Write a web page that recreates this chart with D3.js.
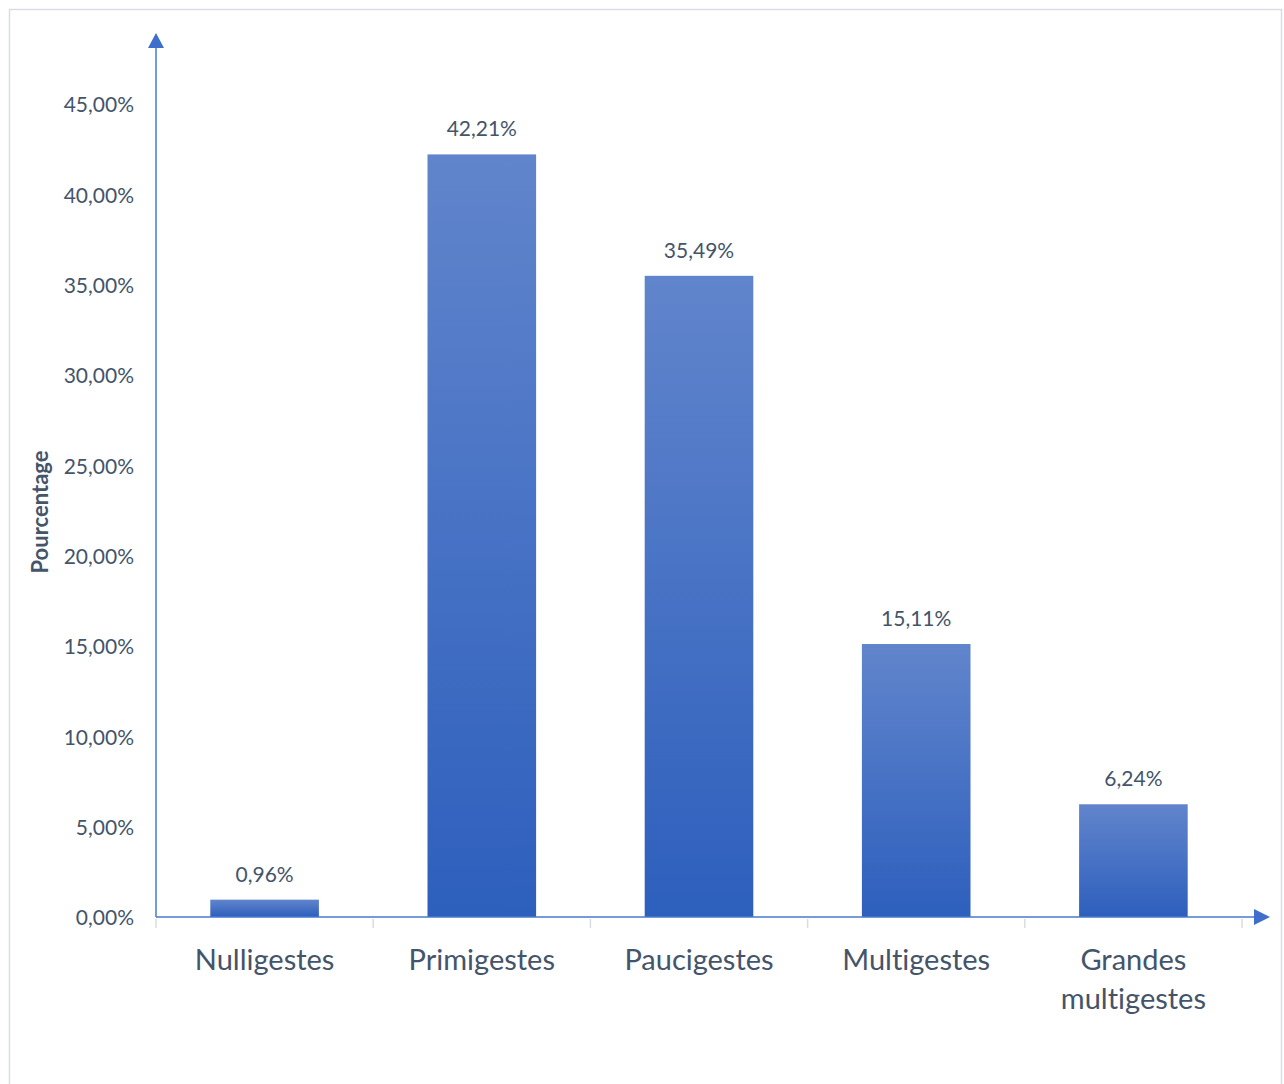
<!DOCTYPE html>
<html>
<head>
<meta charset="utf-8">
<script src="https://cdn.jsdelivr.net/npm/d3@7"></script>
<style>
  html, body { margin: 0; padding: 0; background: #fff; }
  svg { display: block; }
  text { font-family: Lato, "Open Sans", sans-serif; font-variant-ligatures: none; font-feature-settings: "liga" 0, "clig" 0; }
</style>
</head>
<body>
<svg id="chart" width="1284" height="1084"></svg>
<script>
// Répartition des patientes selon la gestité
const categories = ["Nulligestes", "Primigestes", "Paucigestes", "Multigestes", "Grandes multigestes"];
const values = [0.96, 42.21, 35.49, 15.11, 6.24];
const yTicks = [0, 5, 10, 15, 20, 25, 30, 35, 40, 45];
const axisTitle = "Pourcentage";

const svg = d3.select("#chart");
const plot = { left: 156, right: 1242, top: 104, bottom: 917 };

const fmtPct = v => v.toFixed(2).replace(".", ",") + "%";

// chart frame
svg.append("rect")
  .attr("x", 9.5).attr("y", 9.5)
  .attr("width", 1272).attr("height", 1090)
  .attr("fill", "#fff").attr("stroke", "#d9dde3").attr("stroke-width", 1.5);

const x = d3.scaleBand().domain(categories).range([plot.left, plot.right]).paddingInner(0.5).paddingOuter(0.25);
const y = d3.scaleLinear().domain([0, 45]).range([plot.bottom, plot.top]);

// bar gradient
const defs = svg.append("defs");
const grad = defs.append("linearGradient").attr("id", "barGrad")
  .attr("x1", 0).attr("y1", 0).attr("x2", 0).attr("y2", 1);
grad.append("stop").attr("offset", "0%").attr("stop-color", "#6185cc");
grad.append("stop").attr("offset", "100%").attr("stop-color", "#2d5fbd");

// y tick labels
const yAxis = d3.axisLeft(y).tickValues(yTicks).tickFormat(fmtPct).tickSize(0).tickPadding(22);
const gy = svg.append("g").attr("transform", `translate(${plot.left},1)`).call(yAxis);
gy.select(".domain").remove();
gy.selectAll("text").attr("font-size", 21).attr("fill", "#44546a")
  .attr("font-family", "Lato, 'Open Sans', sans-serif");

// category tick marks below the axis
const bandEdges = categories.map(c => x(c) - x.step() * x.paddingInner() / 2);
bandEdges.push(plot.right);
svg.append("g").selectAll("line").data(bandEdges).join("line")
  .attr("x1", d => d).attr("x2", d => d)
  .attr("y1", plot.bottom + 2).attr("y2", plot.bottom + 11)
  .attr("stroke", "#d9dde3").attr("stroke-width", 1.5);

// bars
svg.append("g").selectAll("rect").data(values).join("rect")
  .attr("x", (d, i) => x(categories[i]))
  .attr("y", d => y(d))
  .attr("width", x.bandwidth())
  .attr("height", d => y(0) - y(d))
  .attr("fill", "url(#barGrad)");

// value labels
svg.append("g").selectAll("text").data(values).join("text")
  .attr("x", (d, i) => x(categories[i]) + x.bandwidth() / 2)
  .attr("y", d => y(d) - 18)
  .attr("text-anchor", "middle")
  .attr("font-size", 21).attr("fill", "#44546a")
  .text(fmtPct);

// axes with arrowheads
const axisColor = "#4a78cc";
svg.append("line")
  .attr("x1", plot.left).attr("x2", plot.left)
  .attr("y1", plot.bottom).attr("y2", 46)
  .attr("stroke", axisColor).attr("stroke-width", 1.5);
svg.append("path")
  .attr("d", `M${plot.left - 8},48 L${plot.left + 8},48 L${plot.left},33 Z`)
  .attr("fill", "#3f6fca");
svg.append("line")
  .attr("x1", plot.left).attr("x2", 1256)
  .attr("y1", plot.bottom).attr("y2", plot.bottom)
  .attr("stroke", axisColor).attr("stroke-width", 1.5);
svg.append("path")
  .attr("d", `M1254,${plot.bottom - 8} L1254,${plot.bottom + 8} L1270,${plot.bottom} Z`)
  .attr("fill", "#3f6fca");

// category labels (wrapped)
const catG = svg.append("g");
categories.forEach(c => {
  const lines = c === "Grandes multigestes" ? ["Grandes", "multigestes"] : [c];
  const t = catG.append("text")
    .attr("x", x(c) + x.bandwidth() / 2)
    .attr("y", 970)
    .attr("text-anchor", "middle")
    .attr("font-size", 29).attr("fill", "#44546a");
  lines.forEach((l, i) => t.append("tspan")
    .attr("x", x(c) + x.bandwidth() / 2)
    .attr("dy", i === 0 ? 0 : 39)
    .text(l));
});

// y axis title
svg.append("text")
  .attr("transform", `translate(48,512) rotate(-90)`)
  .attr("text-anchor", "middle")
  .attr("font-size", 22).attr("font-weight", "bold").attr("fill", "#44546a")
  .text(axisTitle);
</script>
</body>
</html>
